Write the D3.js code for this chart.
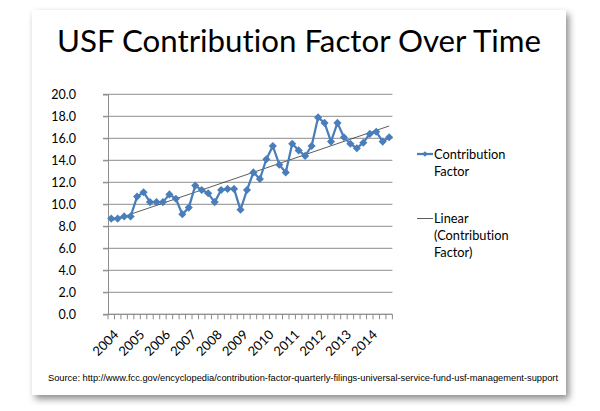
<!DOCTYPE html>
<html>
<head>
<meta charset="utf-8">
<script src="https://cdn.jsdelivr.net/npm/d3@7"></script>
<style>
  html, body { margin: 0; padding: 0; background: #fff; }
  svg { display: block; }
  text { font-variant-ligatures: none; }
</style>
</head>
<body>
<svg id="chart" width="600" height="411"></svg>
<script>
// quarterly USF contribution factor (%), 2004 Q1 .. 2014 Q4
var years = ['2004', '2005', '2006', '2007', '2008', '2009', '2010', '2011', '2012', '2013', '2014'];
var quarters = ['Q1', 'Q2', 'Q3', 'Q4'];
var values = [
  8.7, 8.7, 8.9, 8.9,
  10.7, 11.1, 10.2, 10.2,
  10.2, 10.9, 10.5, 9.1,
  9.7, 11.7, 11.3, 11.0,
  10.2, 11.3, 11.4, 11.4,
  9.5, 11.3, 12.9, 12.3,
  14.1, 15.3, 13.6, 12.9,
  15.5, 14.9, 14.4, 15.3,
  17.9, 17.4, 15.7, 17.4,
  16.1, 15.5, 15.1, 15.6,
  16.4, 16.6, 15.7, 16.1
];
var yTicks = [0, 2, 4, 6, 8, 10, 12, 14, 16, 18, 20];
var sourceText = 'Source: http://www.fcc.gov/encyclopedia/contribution-factor-quarterly-filings-universal-service-fund-usf-management-support';

var categories = [];
years.forEach(function (y) {
  quarters.forEach(function (q) { categories.push(y + ' ' + q); });
});
categories = categories.slice(0, values.length);

var blue = '#4a7ebb';
var font = 'Lato, "Open Sans", sans-serif';

var svg = d3.select('#chart');

// card with shadow
var defs = svg.append('defs');
var f = defs.append('filter').attr('id', 'shadow')
  .attr('x', '-5%').attr('y', '-5%').attr('width', '115%').attr('height', '115%');
f.append('feDropShadow')
  .attr('dx', 3).attr('dy', 4).attr('stdDeviation', 3.5)
  .attr('flood-color', '#000').attr('flood-opacity', 0.45);

svg.append('rect')
  .attr('x', 32).attr('y', 10).attr('width', 534).attr('height', 385)
  .attr('fill', '#fff')
  .attr('filter', 'url(#shadow)');

// title
svg.append('text')
  .attr('x', 299).attr('y', 52)
  .attr('text-anchor', 'middle')
  .attr('font-family', font)
  .attr('font-size', 31)
  .attr('fill', '#000')
  .attr('textLength', 484)
  .attr('lengthAdjust', 'spacingAndGlyphs')
  .text('USF Contribution Factor Over Time');

var plotL = 108, plotR = 392.4, plotT = 94.3, plotB = 314.3;

var x = d3.scaleBand().domain(categories).range([plotL, plotR]);
var y = d3.scaleLinear().domain([0, 20]).range([plotB, plotT]);

var cx = function (c) { return x(c) + x.bandwidth() / 2; };

// gridlines
svg.append('g')
  .selectAll('line')
  .data(yTicks)
  .join('line')
  .attr('x1', plotL - 5).attr('x2', plotR)
  .attr('y1', function (d) { return y(d); })
  .attr('y2', function (d) { return y(d); })
  .attr('stroke', '#8c8c8c')
  .attr('stroke-width', 1);

// y axis
var yAxis = svg.append('g')
  .attr('transform', 'translate(' + plotL + ',0)')
  .call(d3.axisLeft(y).tickValues(yTicks).tickFormat(d3.format('.1f')).tickSize(5));
yAxis.select('.domain').attr('stroke', '#8c8c8c');
yAxis.selectAll('.tick line').attr('stroke', '#8c8c8c');
yAxis.selectAll('text')
  .attr('x', -32)
  .attr('font-family', font)
  .attr('font-size', 12.5)
  .attr('fill', '#000');

// x axis line and tick marks at category boundaries
var xg = svg.append('g');
xg.append('line')
  .attr('x1', plotL).attr('x2', plotR)
  .attr('y1', plotB).attr('y2', plotB)
  .attr('stroke', '#8c8c8c');
var bounds = categories.map(function (c) { return x(c); }).concat([plotR]);
xg.selectAll('line.tk')
  .data(bounds)
  .join('line')
  .attr('class', 'tk')
  .attr('x1', function (d) { return d; }).attr('x2', function (d) { return d; })
  .attr('y1', plotB).attr('y2', plotB + 5)
  .attr('stroke', '#8c8c8c');

// year labels on first quarter of each year
xg.selectAll('text')
  .data(years)
  .join('text')
  .attr('transform', function (d) {
    return 'translate(' + (cx(d + ' Q1') + 5) + ',' + (plotB + 18) + ') rotate(-45)';
  })
  .attr('text-anchor', 'end')
  .attr('dy', '0.35em')
  .attr('font-family', font)
  .attr('font-size', 13)
  .attr('fill', '#000')
  .text(function (d) { return d; });

// linear trend (least squares on category index)
var n = values.length;
var idx = d3.range(n);
var mx = d3.mean(idx), my = d3.mean(values);
var slope = d3.sum(idx, function (i) { return (i - mx) * (values[i] - my); }) /
            d3.sum(idx, function (i) { return (i - mx) * (i - mx); });
var icept = my - slope * mx;

svg.append('line')
  .attr('x1', cx(categories[0])).attr('y1', y(icept))
  .attr('x2', cx(categories[n - 1])).attr('y2', y(icept + slope * (n - 1)))
  .attr('stroke', '#333')
  .attr('stroke-width', 0.8);

// data series
var line = d3.line()
  .x(function (d, i) { return cx(categories[i]); })
  .y(function (d) { return y(d); });

svg.append('path')
  .datum(values)
  .attr('d', line)
  .attr('fill', 'none')
  .attr('stroke', blue)
  .attr('stroke-width', 2.25)
  .attr('stroke-linejoin', 'round');

var diamond = d3.symbol().type(d3.symbolDiamond2).size(42);
svg.append('g')
  .selectAll('path')
  .data(values)
  .join('path')
  .attr('d', diamond)
  .attr('transform', function (d, i) { return 'translate(' + cx(categories[i]) + ',' + y(d) + ')'; })
  .attr('fill', blue);

// legend
var lg = svg.append('g').attr('font-family', font).attr('font-size', 12.8).attr('fill', '#000');
lg.append('line').attr('x1', 417).attr('x2', 433).attr('y1', 154).attr('y2', 154)
  .attr('stroke', blue).attr('stroke-width', 2.25);
lg.append('path').attr('d', d3.symbol().type(d3.symbolDiamond2).size(20))
  .attr('transform', 'translate(425,154)').attr('fill', blue);
var l1 = lg.append('text').attr('x', 434).attr('y', 158.5);
l1.append('tspan').attr('x', 434).text('Contribution');
l1.append('tspan').attr('x', 434).attr('dy', 17).text('Factor');

lg.append('line').attr('x1', 417).attr('x2', 433).attr('y1', 218.5).attr('y2', 218.5)
  .attr('stroke', '#333').attr('stroke-width', 0.8);
var l2 = lg.append('text').attr('x', 434).attr('y', 223);
l2.append('tspan').attr('x', 434).text('Linear');
l2.append('tspan').attr('x', 434).attr('dy', 17).text('(Contribution');
l2.append('tspan').attr('x', 434).attr('dy', 17).text('Factor)');

// source note
svg.append('text')
  .attr('x', 48).attr('y', 381)
  .attr('font-family', '"Liberation Sans", Arial, sans-serif')
  .attr('font-size', 8.6)
  .attr('fill', '#000')
  .attr('textLength', 510)
  .attr('lengthAdjust', 'spacingAndGlyphs')
  .text(sourceText);
</script>
</body>
</html>
